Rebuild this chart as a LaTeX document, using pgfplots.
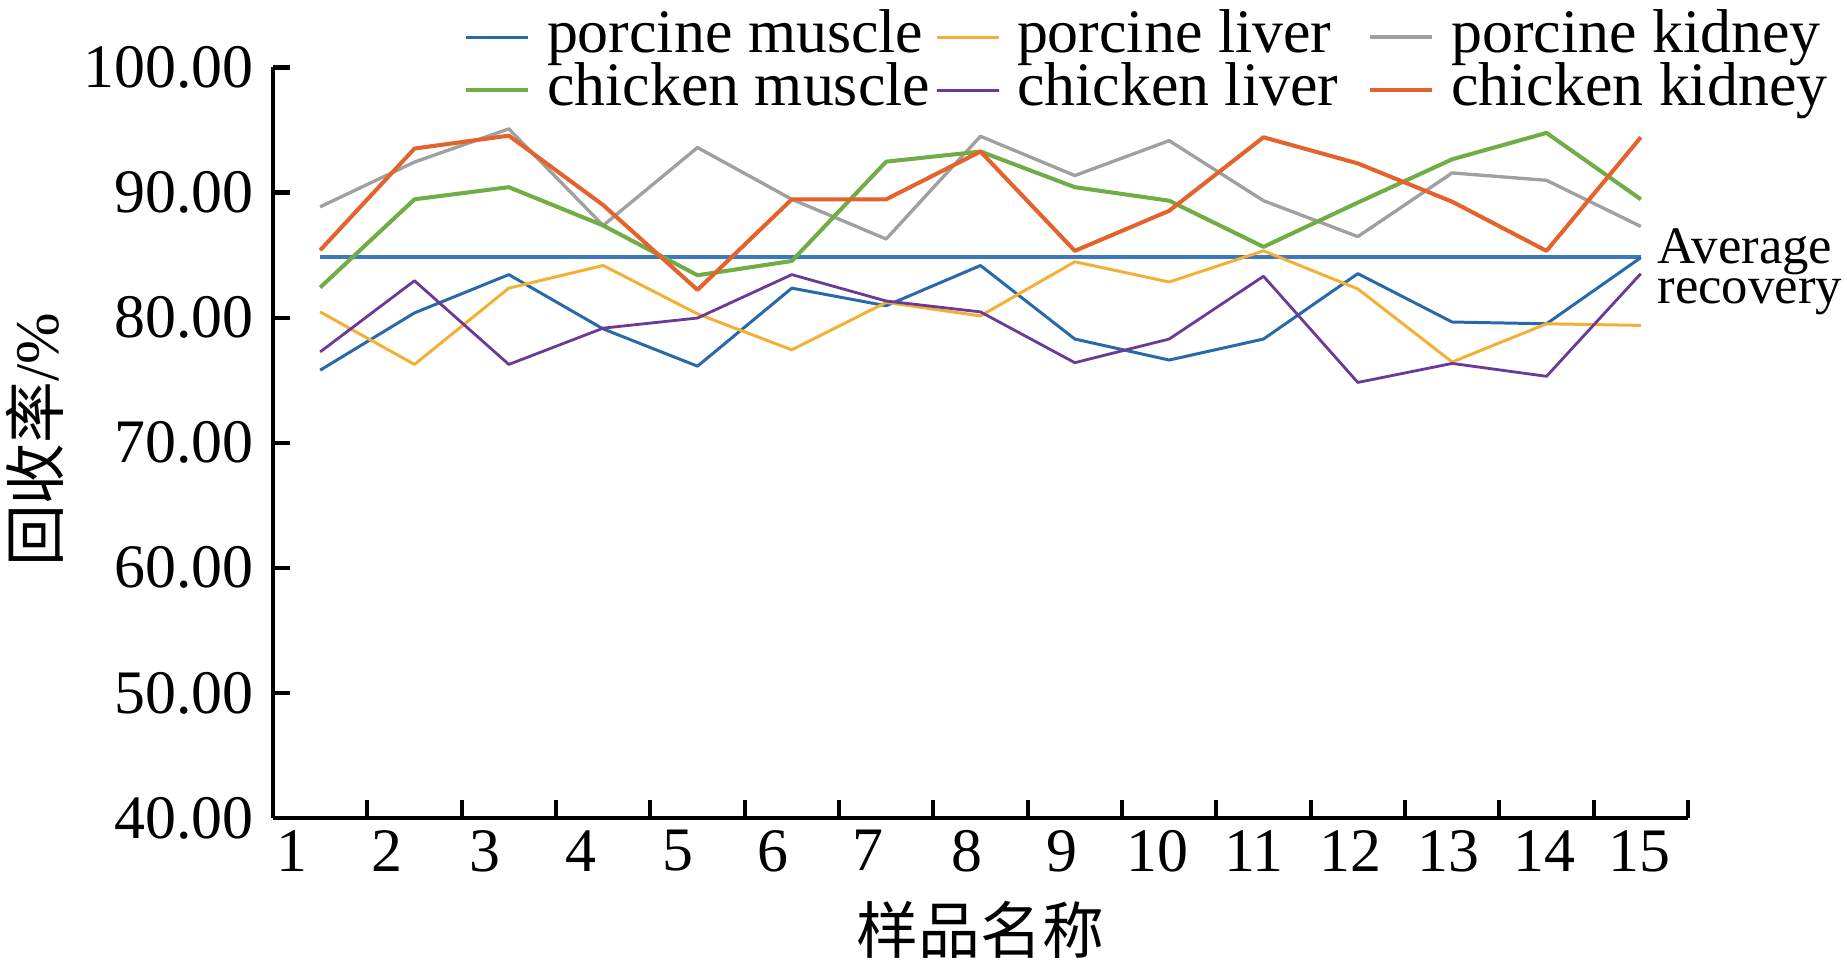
\documentclass[border=0pt]{standalone}
\usepackage{fontspec}
\setmainfont{Liberation Serif}
\newfontfamily\cjk{Noto Sans CJK SC}
\usepackage{pgfplots}
\pgfplotsset{compat=1.18}

\definecolor{pmus}{RGB}{40,105,170}
\definecolor{pliv}{RGB}{244,176,52}
\definecolor{pkid}{RGB}{160,160,160}
\definecolor{cmus}{RGB}{112,173,71}
\definecolor{cliv}{RGB}{107,58,150}
\definecolor{ckid}{RGB}{228,98,44}
\definecolor{avg}{RGB}{60,120,190}

\newcommand{\bigfont}{\fontsize{17.6pt}{20pt}\selectfont}

\begin{document}
\begin{tikzpicture}
\begin{axis}[
    scale only axis,
    width=141.5mm, height=75.05mm,
    axis lines*=left,
    axis line style={line width=1.2pt},
    xmin=0.5, xmax=15.5,
    ymin=40, ymax=100,
    clip=false,
    tick align=inside,
    ytick={40,50,...,100},
    major tick length=1.75mm,
    tick style={line width=1.2pt, black},
    xtick={1.5,2.5,...,15.5},
    xticklabels={},
    extra x ticks={0.701,1.709,2.747,3.765,4.793,5.801,6.808,7.857,8.864,9.871,10.90,11.917,12.956,13.974,14.981},
    extra x tick labels={1,2,3,4,5,6,7,8,9,10,11,12,13,14,15},
    extra x tick style={tick style={draw=none}},
    ticklabel style={font=\bigfont},
    /pgf/number format/assume math mode=true,
    yticklabel style={xshift=-0.7mm, /pgf/number format/.cd, fixed, fixed zerofill, precision=2},
    xlabel={{\cjk 样品名称}},
    xlabel style={font=\bigfont, at={(axis description cs:0.5,-0.149)}, anchor=center},
    ylabel={{\cjk 回收率}/\%},
    ylabel style={font=\bigfont, at={(axis description cs:-0.168,0.504)}, anchor=center},
    legend columns=3,
    legend cell align=left,
    legend style={
        draw=none, fill=none, inner sep=0pt, outer sep=0pt,
        at={(axis description cs:0.135,1.0726)}, anchor=north west,
        font=\bigfont,
        row sep=0pt,
        nodes={inner sep=0pt, text height=11.3pt, text depth=3.8pt},
        /tikz/every odd column/.style={column sep=1.7mm},
        /tikz/column 2/.style={column sep=0.5mm},
        /tikz/column 4/.style={column sep=3.0mm},
    },
    legend image code/.code={\draw[#1] (0mm,0.25mm) -- (6.2mm,0.25mm);},
    every axis plot/.append style={line join=round},
]
% average recovery
\addplot[avg, line width=1.3pt, forget plot] coordinates {(1,84.86) (15,84.86)};

% porcine muscle
\addplot[pmus, line width=0.85pt] coordinates {
    (1,75.80) (2,80.38) (3,83.44) (4,79.10) (5,76.12) (6,82.36) (7,80.95) (8,84.17)
    (9,78.29) (10,76.61) (11,78.29) (12,83.52) (13,79.65) (14,79.51) (15,84.80)};
% porcine liver
\addplot[pliv, line width=0.85pt] coordinates {
    (1,80.46) (2,76.26) (3,82.36) (4,84.17) (5,80.30) (6,77.43) (7,81.22) (8,80.14)
    (9,84.47) (10,82.85) (11,85.34) (12,82.30) (13,76.45) (14,79.51) (15,79.38)};
% porcine kidney
\addplot[pkid, line width=0.95pt] coordinates {
    (1,88.86) (2,92.44) (3,95.09) (4,87.37) (5,93.60) (6,89.46) (7,86.29) (8,94.50)
    (9,91.36) (10,94.15) (11,89.35) (12,86.48) (13,91.57) (14,90.98) (15,87.29)};
% chicken muscle
\addplot[cmus, line width=1.15pt] coordinates {
    (1,82.41) (2,89.46) (3,90.43) (4,87.37) (5,83.39) (6,84.53) (7,92.47) (8,93.28)
    (9,90.43) (10,89.35) (11,85.66) (12,89.20) (13,92.66) (14,94.77) (15,89.46)};
% chicken liver
\addplot[cliv, line width=0.8pt] coordinates {
    (1,77.26) (2,82.95) (3,76.26) (4,79.16) (5,79.97) (6,83.44) (7,81.33) (8,80.46)
    (9,76.40) (10,78.29) (11,83.31) (12,74.82) (13,76.34) (14,75.31) (15,83.52)};
% chicken kidney
\addplot[ckid, line width=1.15pt] coordinates {
    (1,85.39) (2,93.52) (3,94.55) (4,89.00) (5,82.22) (6,89.46) (7,89.46) (8,93.28)
    (9,85.34) (10,88.54) (11,94.42) (12,92.33) (13,89.27) (14,85.34) (15,94.42)};

\legend{porcine muscle, porcine liver, porcine kidney,
        chicken muscle, chicken liver, chicken kidney}

\node[anchor=base west, inner sep=0pt, font=\fontsize{15pt}{16pt}\selectfont]
    at (axis cs:15.17,84.36) {Average};
\node[anchor=base west, inner sep=0pt, font=\fontsize{15pt}{16pt}\selectfont]
    at (axis cs:15.17,81.16) {recovery};
\end{axis}
\pgfresetboundingbox
\path[use as bounding box] (-27.3mm,-14.4mm) rectangle (157.4mm,81.8mm);
\end{tikzpicture}
\end{document}
